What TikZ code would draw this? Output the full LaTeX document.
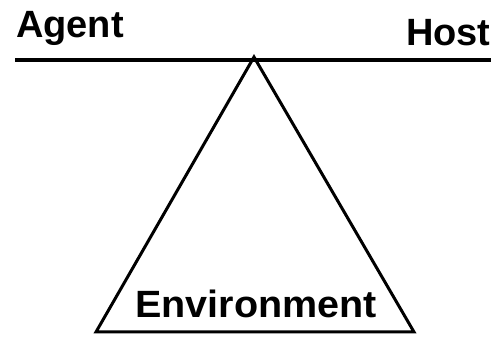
\documentclass[tikz,border=0pt]{standalone}
\usepackage{fontspec}
\setmainfont{Liberation Sans}
\begin{document}
\begin{tikzpicture}[x=1pt,y=-1pt,
  lbl/.style={font=\fontsize{38}{40}\selectfont\bfseries, inner sep=0pt, anchor=base west},
  bar/.style={line width=4pt},
  tri/.style={line width=3pt, line join=miter}]
\useasboundingbox (0,0) rectangle (491,339);
\coordinate (L) at (15,60);
\coordinate (R) at (495,60);
\coordinate (apex) at (254,57);
\coordinate (bl) at (96,332);
\coordinate (br) at (414,332);
\draw[bar] (L) -- (R);
\draw[tri] (apex) -- (bl) -- (br) -- cycle;
\node[lbl] (agent) at (16,38) {Agent};
\node[lbl] (host) at (406,46) {Host};
\node[lbl, xscale=1.04] (env) at (135,318) {Environment};
\end{tikzpicture}
\end{document}
